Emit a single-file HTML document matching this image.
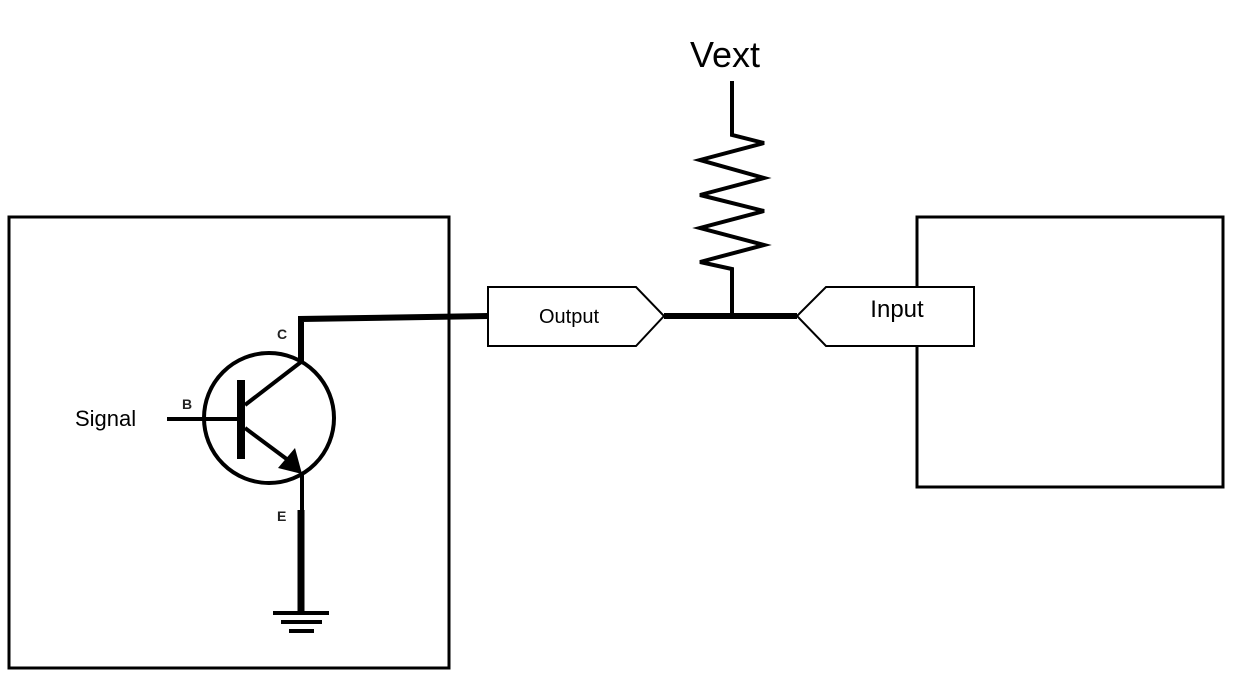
<!DOCTYPE html>
<html><head><meta charset="utf-8"><style>
html,body{margin:0;padding:0;background:#fff;}
svg{display:block;}
text{font-family:"Liberation Sans",sans-serif;}
</style></head><body>
<svg width="1238" height="683" viewBox="0 0 1238 683" xmlns="http://www.w3.org/2000/svg">
<rect x="9" y="217" width="440" height="451" fill="none" stroke="#000" stroke-width="3"/>
<rect x="917" y="217" width="306" height="270" fill="none" stroke="#000" stroke-width="3"/>
<!-- collector wire -->
<polyline points="301,362 301,319 488,316" fill="none" stroke="#000" stroke-width="6"/>
<!-- transistor -->
<circle cx="269" cy="418" r="65" fill="none" stroke="#000" stroke-width="4"/>
<line x1="167" y1="419" x2="242" y2="419" stroke="#000" stroke-width="4"/>
<line x1="241" y1="380" x2="241" y2="459" stroke="#000" stroke-width="8"/>
<line x1="245" y1="405" x2="301" y2="362" stroke="#000" stroke-width="4"/>
<line x1="245" y1="428" x2="292" y2="463" stroke="#000" stroke-width="4"/>
<polygon points="302,474 295,448 278,468" fill="#000"/>
<line x1="302" y1="472" x2="302" y2="512" stroke="#000" stroke-width="4"/>
<line x1="301" y1="510" x2="301" y2="613" stroke="#000" stroke-width="7"/>
<line x1="273" y1="613" x2="329" y2="613" stroke="#000" stroke-width="4"/>
<line x1="281" y1="622" x2="322" y2="622" stroke="#000" stroke-width="4"/>
<line x1="289" y1="631" x2="314" y2="631" stroke="#000" stroke-width="4"/>
<text x="277" y="339" font-size="14" font-weight="bold" fill="#222">C</text>
<text x="182" y="409" font-size="14" font-weight="bold" fill="#222">B</text>
<text x="277" y="521" font-size="14" font-weight="bold" fill="#222">E</text>
<text x="75" y="426" font-size="22">Signal</text>
<!-- bus -->
<line x1="664" y1="316" x2="797" y2="316" stroke="#000" stroke-width="6"/>
<!-- resistor -->
<polyline points="732,81 732,135 764,143 700,160 764,178 700,195 764,211 700,228 764,245 700,262 732,269 732,316" fill="none" stroke="#000" stroke-width="4" stroke-linejoin="miter"/>
<text x="725" y="67" font-size="36" text-anchor="middle">Vext</text>
<!-- output shape -->
<polygon points="488,287 636,287 664,316 636,346 488,346" fill="#fff" stroke="#000" stroke-width="2"/>
<text x="569" y="323" font-size="20" text-anchor="middle">Output</text>
<!-- input shape -->
<polygon points="797,316 826,287 974,287 974,346 826,346" fill="#fff" stroke="#000" stroke-width="2"/>
<text x="897" y="317" font-size="24" text-anchor="middle">Input</text>
</svg>
</body></html>
